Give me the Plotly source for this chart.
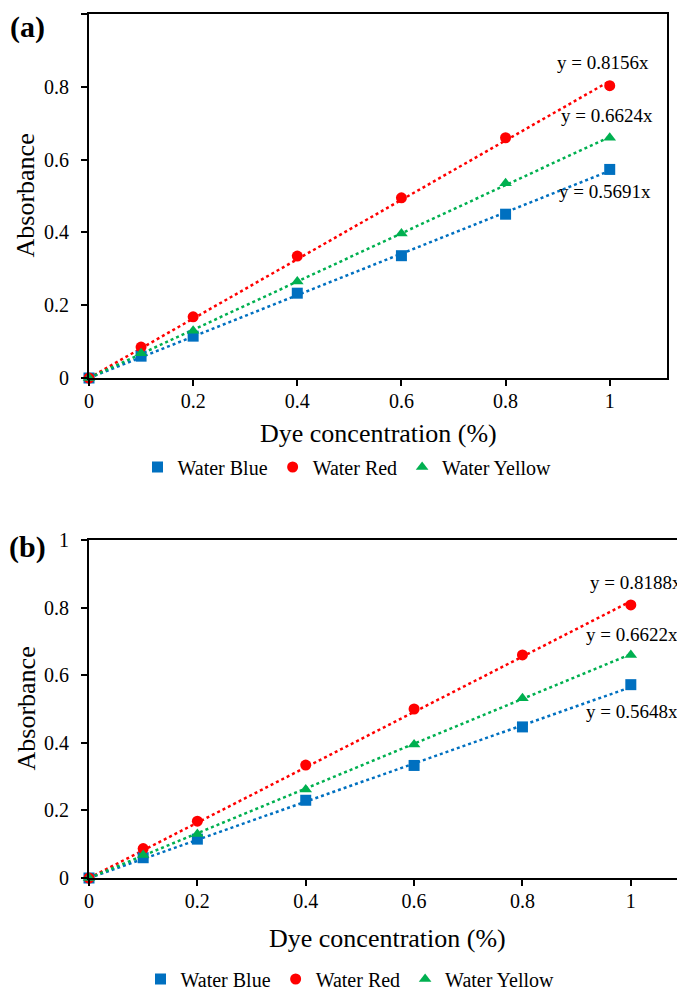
import plotly.graph_objects as go

conc = [0, 0.1, 0.2, 0.4, 0.6, 0.8, 1.0]

# Panel (a)
a_blue = [0, 0.060, 0.115, 0.233, 0.336, 0.450, 0.573]
a_red = [0, 0.085, 0.168, 0.335, 0.495, 0.660, 0.803]
a_yellow = [0, 0.068, 0.130, 0.265, 0.397, 0.535, 0.660]
a_slopes = [0.5691, 0.8156, 0.6624]

# Panel (b)
b_blue = [0, 0.060, 0.115, 0.230, 0.333, 0.447, 0.572]
b_red = [0, 0.087, 0.168, 0.334, 0.500, 0.660, 0.808]
b_yellow = [0, 0.068, 0.130, 0.262, 0.395, 0.532, 0.660]
b_slopes = [0.5648, 0.8188, 0.6622]

series_names = ["Water Blue", "Water Red", "Water Yellow"]
tick_vals = [0, 0.2, 0.4, 0.6, 0.8, 1.0]
tick_text = ["0", "0.2", "0.4", "0.6", "0.8", "1"]

colors = ["#0070C0", "#FF0000", "#00B050"]
symbols = ["square", "circle", "triangle-up"]
FONT = "Liberation Serif"
# page body has an 8px default margin; size the figure so it fills the window
OFF = 8
W, H = 685 - OFF, 993 - OFF

fig = go.Figure()

panels = [
    dict(data=[a_blue, a_red, a_yellow], slopes=a_slopes, xa="x", ya="y", legend="legend"),
    dict(data=[b_blue, b_red, b_yellow], slopes=b_slopes, xa="x2", ya="y2", legend="legend2"),
]

for p in panels:
    for i, (vals, slope) in enumerate(zip(p["data"], p["slopes"])):
        fig.add_trace(go.Scatter(
            x=[0, 1], y=[0, slope], mode="lines",
            line=dict(color=colors[i], width=2.5, dash="dot"),
            xaxis=p["xa"], yaxis=p["ya"], showlegend=False, hoverinfo="skip",
            cliponaxis=False,
        ))
    for i, vals in enumerate(p["data"]):
        fig.add_trace(go.Scatter(
            x=conc, y=vals, mode="markers", name=series_names[i],
            marker=dict(color=colors[i], symbol=symbols[i], size=11,
                        line=dict(width=0)),
            xaxis=p["xa"], yaxis=p["ya"], legend=p["legend"], cliponaxis=False,
        ))

def px_x(v):
    return (v - OFF) / W

def px_y(v):
    return 1 - (v - OFF) / H

axis_common = dict(
    showgrid=False, zeroline=False, showline=True, linecolor="black", linewidth=2,
    mirror=True, ticks="outside", ticklen=6, tickwidth=2, tickcolor="black",
    tickvals=tick_vals, ticktext=tick_text, automargin=False,
    tickfont=dict(family=FONT, size=20, color="black"),
)

legend_common = dict(orientation="h", xanchor="center", yanchor="middle",
                     font=dict(family=FONT, size=20, color="black"),
                     itemwidth=30, tracegroupgap=0, bgcolor="rgba(0,0,0,0)")

fig.update_layout(
    width=W, height=H, margin=dict(l=0, r=0, t=0, b=0, autoexpand=False),
    paper_bgcolor="white", plot_bgcolor="white",
    font=dict(family=FONT, color="black"),
    xaxis=dict(axis_common, domain=[px_x(89), px_x(667)], range=[0, 1.11],
               anchor="y", ticklabelstandoff=-2),
    yaxis=dict(axis_common, domain=[px_y(378), px_y(14)], range=[0, 1],
               anchor="x", ticklabelstandoff=8),
    xaxis2=dict(axis_common, domain=[px_x(89), 1.0], range=[0, 1.1],
                anchor="y2", ticklabelstandoff=-2),
    yaxis2=dict(axis_common, domain=[px_y(878), px_y(540)], range=[0, 1],
                anchor="x2", ticklabelstandoff=8),
    legend=dict(legend_common, x=px_x(347), y=px_y(467)),
    legend2=dict(legend_common, x=px_x(350), y=px_y(979)),
)

anns = []
# axis titles
for xc, yc in [(378, 433), (387, 938)]:
    anns.append(dict(text="Dye concentration (%)", x=px_x(xc), y=px_y(yc), xref="paper",
                     yref="paper", showarrow=False, xanchor="center", yanchor="middle",
                     font=dict(family=FONT, size=26, color="black")))
for xc, yc in [(OFF, 196), (OFF + 1, 709)]:
    anns.append(dict(text="Absorbance", x=px_x(xc), y=px_y(yc), xref="paper",
                     yref="paper", showarrow=False, xanchor="left", yanchor="middle",
                     textangle=-90, font=dict(family=FONT, size=26, color="black")))
# panel labels
anns.append(dict(text="<b>(a)</b>", x=px_x(27), y=1.0, xref="paper", yref="paper",
                 showarrow=False, xanchor="center", yanchor="top",
                 font=dict(family=FONT, size=30, color="black")))
anns.append(dict(text="<b>(b)</b>", x=px_x(27), y=px_y(547), xref="paper", yref="paper",
                 showarrow=False, xanchor="center", yanchor="middle",
                 font=dict(family=FONT, size=30, color="black")))
# equations
a_offsets = [(0.991, -0.056), (0.988, 0.052), (0.995, 0.058)]
b_offsets = [(1.002, -0.071), (1.009, 0.054), (1.002, 0.057)]
for p, offs in zip(panels, [a_offsets, b_offsets]):
    for slope, (xx, dy) in zip(p["slopes"], offs):
        anns.append(dict(text=f"y = {slope:.4f}x", x=xx, y=slope + dy,
                         xref=p["xa"], yref=p["ya"], showarrow=False,
                         xanchor="center", yanchor="middle",
                         font=dict(family=FONT, size=19, color="black")))
fig.update_layout(annotations=anns)

fig.write_html("out.html")
